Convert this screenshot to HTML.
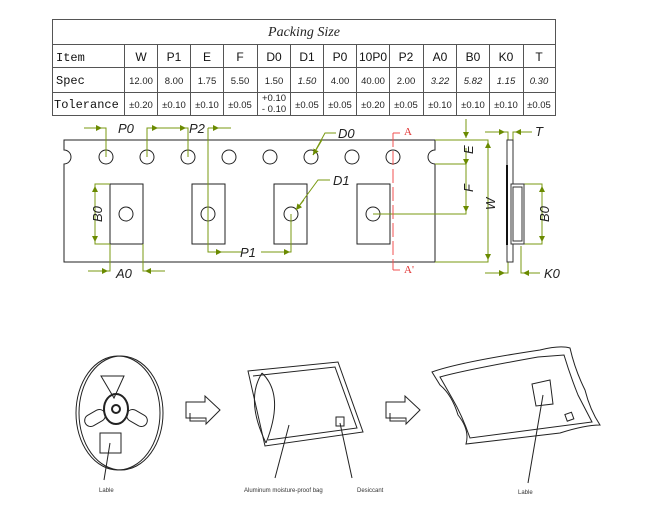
<!DOCTYPE html>
<html><head><style>
html,body{margin:0;padding:0;background:#fff;}
svg{display:block;}
.t{font-family:"Liberation Sans",sans-serif;font-size:12px;fill:#111;}
.m{font-family:"Liberation Mono",monospace;font-size:12px;fill:#111;}
.s{font-family:"Liberation Sans",sans-serif;font-size:9.5px;fill:#222;}
.d{font-family:"Liberation Sans",sans-serif;font-size:13px;font-style:italic;fill:#222;}
.g{stroke:#7a9a10;stroke-width:1;fill:none;}
.k{stroke:#222;stroke-width:1;fill:none;}
.r{stroke:#f05050;stroke-width:1;fill:none;stroke-dasharray:14,4;}
</style></head><body>
<svg width="662" height="531" viewBox="0 0 662 531" xmlns="http://www.w3.org/2000/svg">
<defs><marker id="a" markerWidth="6" markerHeight="6" refX="6" refY="3" orient="auto"><path d="M0,0 L6,3 L0,6 Z" fill="#6a8a00"/></marker></defs>
<!-- table -->
<g stroke="#555" stroke-width="1" fill="none">
<rect x="52.5" y="19.5" width="503" height="96"/>
<line x1="52" y1="44.5" x2="556" y2="44.5"/>
<line x1="52" y1="67.5" x2="556" y2="67.5"/>
<line x1="52" y1="92.5" x2="556" y2="92.5"/>
<line x1="124.5" y1="44" x2="124.5" y2="116"/>
<line x1="157.5" y1="44" x2="157.5" y2="116"/>
<line x1="190.5" y1="44" x2="190.5" y2="116"/>
<line x1="223.5" y1="44" x2="223.5" y2="116"/>
<line x1="257.5" y1="44" x2="257.5" y2="116"/>
<line x1="290.5" y1="44" x2="290.5" y2="116"/>
<line x1="323.5" y1="44" x2="323.5" y2="116"/>
<line x1="356.5" y1="44" x2="356.5" y2="116"/>
<line x1="389.5" y1="44" x2="389.5" y2="116"/>
<line x1="423.5" y1="44" x2="423.5" y2="116"/>
<line x1="456.5" y1="44" x2="456.5" y2="116"/>
<line x1="489.5" y1="44" x2="489.5" y2="116"/>
<line x1="523.5" y1="44" x2="523.5" y2="116"/>
</g>
<text x="304" y="36" font-family="Liberation Serif,serif" font-style="italic" font-size="14" text-anchor="middle" fill="#222">Packing Size</text>
<text class="m" x="56" y="61">Item</text>
<text class="m" x="56" y="84">Spec</text>
<text class="m" x="54" y="108">Tolerance</text>
<g class="t" text-anchor="middle" font-size="13">
<text x="141" y="61">W</text><text x="174" y="61">P1</text><text x="207" y="61">E</text><text x="240" y="61">F</text><text x="274" y="61">D0</text><text x="307" y="61">D1</text><text x="340" y="61">P0</text><text x="373" y="61">10P0</text><text x="406" y="61">P2</text><text x="440" y="61">A0</text><text x="473" y="61">B0</text><text x="506" y="61">K0</text><text x="539" y="61">T</text>
</g>
<g class="s" text-anchor="middle">
<text x="141" y="84">12.00</text><text x="174" y="84">8.00</text><text x="207" y="84">1.75</text><text x="240" y="84">5.50</text><text x="274" y="84">1.50</text><text x="307" y="84" font-style="italic">1.50</text><text x="340" y="84">4.00</text><text x="373" y="84">40.00</text><text x="406" y="84">2.00</text><text x="440" y="84" font-style="italic">3.22</text><text x="473" y="84" font-style="italic">5.82</text><text x="506" y="84" font-style="italic">1.15</text><text x="539" y="84" font-style="italic">0.30</text>
<text x="141" y="108">±0.20</text><text x="174" y="108">±0.10</text><text x="207" y="108">±0.10</text><text x="240" y="108">±0.05</text><text x="274" y="101">+0.10</text><text x="274" y="112">- 0.10</text><text x="307" y="108">±0.05</text><text x="340" y="108">±0.05</text><text x="373" y="108">±0.20</text><text x="406" y="108">±0.05</text><text x="440" y="108">±0.10</text><text x="473" y="108">±0.10</text><text x="506" y="108">±0.10</text><text x="539" y="108">±0.05</text>
</g>
<!-- tape -->
<path class="k" d="M64,140 H435 V150 A7,7 0 0 0 435,164 V262 H64 V164 A7,7 0 0 0 64,150 Z"/>
<g class="k">
<circle cx="106" cy="157" r="7"/><circle cx="147" cy="157" r="7"/><circle cx="188" cy="157" r="7"/><circle cx="229" cy="157" r="7"/><circle cx="270" cy="157" r="7"/><circle cx="311" cy="157" r="7"/><circle cx="352" cy="157" r="7"/><circle cx="393" cy="157" r="7"/>
<rect x="110" y="184" width="33" height="60"/><rect x="192" y="184" width="33" height="60"/><rect x="274" y="184" width="33" height="60"/><rect x="357" y="184" width="33" height="60"/>
<circle cx="126" cy="214" r="7"/><circle cx="208" cy="214" r="7"/><circle cx="291" cy="214" r="7"/><circle cx="373" cy="214" r="7"/>
</g>
<!-- dims -->
<g class="g">
<path d="M84,128 H106 V157"/><line x1="84" y1="128" x2="102" y2="128" marker-end="url(#a)"/>
<path d="M147,157 V128 H188 V157"/><line x1="150" y1="128" x2="158" y2="128" marker-end="url(#a)"/><line x1="178" y1="128" x2="186" y2="128" marker-end="url(#a)"/>
<path d="M208,214 V252 H242"/><path d="M208,128 H231"/><line x1="211" y1="128" x2="219" y2="128" marker-end="url(#a)"/>
<line x1="208" y1="128" x2="208" y2="214"/>
<line x1="212" y1="252" x2="222" y2="252" marker-end="url(#a)"/>
<path d="M261,252 H291 V214"/><line x1="270" y1="252" x2="290" y2="252" marker-end="url(#a)"/>
<path d="M336,133 H325 L313,155" /><line x1="322" y1="140" x2="313" y2="155" marker-end="url(#a)"/>
<path d="M330,180 H318 L296,210"/><line x1="304" y1="200" x2="296" y2="210" marker-end="url(#a)"/>
<path d="M110,184 H95 V244 H110"/><line x1="95" y1="192" x2="95" y2="186" marker-end="url(#a)"/><line x1="95" y1="234" x2="95" y2="242" marker-end="url(#a)"/>
<path d="M88,271 H110 V244"/><line x1="90" y1="271" x2="108" y2="271" marker-end="url(#a)"/>
<path d="M165,271 H143 V244"/><line x1="165" y1="271" x2="145" y2="271" marker-end="url(#a)"/>
<path d="M373,214 H466 V164 H435"/>
<line x1="466" y1="119" x2="466" y2="138" marker-end="url(#a)"/>
<line x1="466" y1="148" x2="466" y2="165" marker-end="url(#a)"/>
<line x1="466" y1="200" x2="466" y2="212" marker-end="url(#a)"/>
<path d="M435,140 H488 V262 H435"/>
<line x1="488" y1="160" x2="488" y2="142" marker-end="url(#a)"/><line x1="488" y1="240" x2="488" y2="260" marker-end="url(#a)"/>
<path d="M485,132 H508 V140"/><line x1="485" y1="132" x2="505" y2="132" marker-end="url(#a)"/>
<path d="M532,132 H513 V140"/><line x1="528" y1="132" x2="515" y2="132" marker-end="url(#a)"/>
<path d="M522,184 H542 V244 H522"/><line x1="542" y1="196" x2="542" y2="186" marker-end="url(#a)"/><line x1="542" y1="232" x2="542" y2="242" marker-end="url(#a)"/>
<path d="M485,273 H508 V262"/><line x1="485" y1="273" x2="505" y2="273" marker-end="url(#a)"/>
<path d="M540,273 H521 V246"/><line x1="538" y1="273" x2="523" y2="273" marker-end="url(#a)"/>
</g>
<g class="d">
<text x="118" y="133">P0</text><text x="189" y="133">P2</text><text x="338" y="138">D0</text><text x="333" y="185">D1</text>
<text x="240" y="257">P1</text><text x="116" y="278">A0</text>
<text x="0" y="0" transform="translate(102,222) rotate(-90)">B0</text>
<text x="0" y="0" transform="translate(473,154) rotate(-90)">E</text>
<text x="0" y="0" transform="translate(473,192) rotate(-90)">F</text>
<text x="0" y="0" transform="translate(495,210) rotate(-90)">W</text>
<text x="0" y="0" transform="translate(549,222) rotate(-90)">B0</text>
<text x="535" y="136">T</text><text x="544" y="278">K0</text>
</g>
<!-- section -->
<path class="r" d="M393,133 V270"/>
<path stroke="#f05050" fill="none" d="M393,133 H400 M393,270 H400"/>
<text x="404" y="135" font-family="Liberation Serif,serif" font-size="11" fill="#e03030">A</text>
<text x="404" y="273" font-family="Liberation Serif,serif" font-size="11" fill="#e03030">A'</text>
<!-- side view -->
<rect x="507" y="140" width="6" height="122" fill="#fff" stroke="#333"/>
<line x1="507" y1="165" x2="507" y2="245" stroke="#111" stroke-width="2"/>
<rect x="511" y="184" width="13" height="60" fill="#fff" stroke="#333"/>
<rect x="513" y="187" width="9" height="54" fill="none" stroke="#333"/>
<!-- bottom: reel -->
<g class="k" stroke-width="0.8">
<ellipse cx="118" cy="413" rx="42" ry="57"/>
<ellipse cx="121" cy="413" rx="42" ry="57"/>
<path d="M101,376 H124 L114,398 Z"/>
<ellipse cx="116" cy="409" rx="12" ry="15" stroke-width="2"/>
<circle cx="116" cy="409" r="4" stroke-width="2"/>
<rect x="84" y="412" width="22" height="12" rx="6" transform="rotate(-30 95 418)"/>
<rect x="126" y="412" width="22" height="12" rx="6" transform="rotate(30 137 418)"/>
<rect x="100" y="433" width="21" height="20"/>
<line x1="110" y1="443" x2="104" y2="480"/>
</g>
<text x="99" y="492" font-family="Liberation Sans,sans-serif" font-size="6" fill="#333">Lable</text>
<!-- arrows -->
<g class="k" stroke-width="0.8">
<path d="M186,402 H205 V396 L220,410 L206,424 V418 H186 Z"/>
<path d="M190,413 V421 H205"/>
<path d="M386,402 H405 V396 L420,410 L406,424 V418 H386 Z"/>
<path d="M390,413 V421 H405"/>
</g>
<!-- bag -->
<g class="k" stroke-width="0.8">
<path d="M248,371 L338,362 L363,432 L265,446 Z"/>
<path d="M253,376 L335,367 L357,428 L268,440"/>
<path d="M262,373 Q285,395 266,443"/>
<path d="M262,373 Q245,400 266,443"/>
<rect x="336" y="417" width="8" height="9"/>
<line x1="340" y1="423" x2="352" y2="478"/>
<line x1="289" y1="425" x2="275" y2="478"/>
</g>
<text x="244" y="492" font-family="Liberation Sans,sans-serif" font-size="6" fill="#333">Aluminum moisture-proof bag</text>
<text x="357" y="492" font-family="Liberation Sans,sans-serif" font-size="6" fill="#333">Desiccant</text>
<!-- sealed bag -->
<g class="k" stroke-width="0.8">
<path d="M432,372 Q460,362 540,350 Q560,345 570,348 Q575,370 585,390 Q590,410 600,425 Q585,425 560,433 L466,444 Q470,430 458,415 Q452,395 440,385 Z"/>
<path d="M440,377 Q465,370 538,357 L564,355 Q570,375 578,395 L592,422 L470,438 Q462,415 452,398 Z"/>
<path d="M532,384 L550,380 L553,404 L536,406 Z"/>
<rect x="566" y="413" width="7" height="7" transform="rotate(-20 570 417)"/>
<line x1="543" y1="395" x2="528" y2="483"/>
</g>
<text x="518" y="494" font-family="Liberation Sans,sans-serif" font-size="6" fill="#333">Lable</text>
</svg>
</body></html>
